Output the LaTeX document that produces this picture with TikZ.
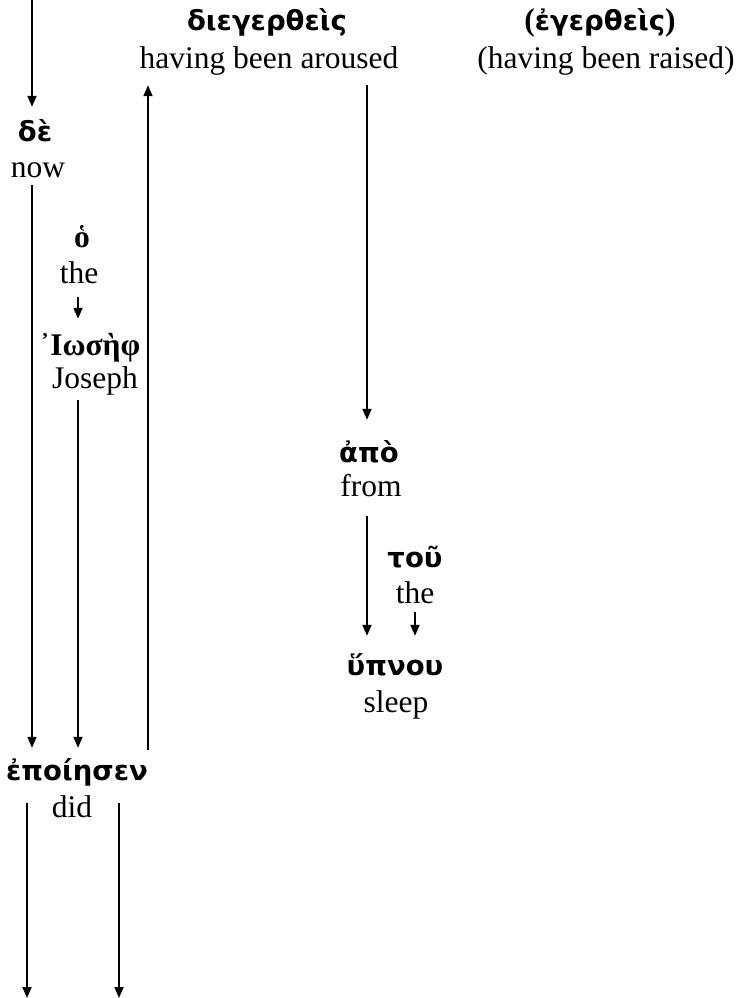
\documentclass[tikz,border=0pt]{standalone}
\usepackage{fontspec}
\setmainfont{Liberation Serif}
\newfontfamily\grk{DejaVu Sans}
\newfontfamily\grkserif{Liberation Serif}
\usetikzlibrary{arrows.meta}
\tikzset{
  eng/.style={anchor=base, inner sep=0pt, text height=22pt, text depth=7pt, font=\fontsize{31.5}{36}\selectfont},
  gk/.style={anchor=base, inner sep=0pt, text height=22pt, text depth=7pt, font=\fontsize{27.5}{32}\selectfont\grk\bfseries},
  gks/.style={anchor=base, inner sep=0pt, text height=22pt, text depth=7pt, font=\fontsize{31.5}{36}\selectfont\grkserif\bfseries},
  arr/.style={line width=1.8pt, -{Triangle[length=11pt,width=9pt]}},
}
\begin{document}
\begin{tikzpicture}[x=1pt,y=-1pt]
\useasboundingbox (0,0) rectangle (739,998);
% nodes
\node[gk]  (g1) at (267,31) {διεγερθεὶς};
\node[eng] (e1) at (269,69) {having been aroused};
\node[gk]  (g2) at (600,31) {{\grkserif\fontsize{31.5}{36}\selectfont(}ἐγερθεὶς{\grkserif\fontsize{31.5}{36}\selectfont)}};
\node[eng] (e2) at (606,69) {(having been raised)};
\node[gk]  (de) at (35,141) {δὲ};
\node[eng] (now) at (38,177) {now};
\node[gks] (o) at (82,247) {ὁ};
\node[eng] (the1) at (79,283) {the};
\node[gks] (ios) at (90,355) {᾿Ιωσὴφ};
\node[eng] (joseph) at (95,388) {Joseph};
\node[gk]  (apo) at (369,462) {ἀπὸ};
\node[eng] (from) at (371,496) {from};
\node[gk]  (tou) at (415,567) {τοῦ};
\node[eng] (the2) at (415,603) {the};
\node[gk]  (hyp) at (395,675) {ὕπνου};
\node[eng] (sleep) at (396,712) {sleep};
\node[gk]  (epo) at (77,780) {ἐποίησεν};
\node[eng] (did) at (72,817) {did};
% free ends
\coordinate (in0) at (32,0);
\coordinate (out1) at (27,998);
\coordinate (out2) at (119,998);
% connectors
\draw[arr] (in0) -- ([yshift=12pt]de.north -| in0);
\draw[arr] ([yshift=-1pt]now.south -| 32,0) -- ([yshift=10pt]epo.north -| 32,0);
\draw[arr] ([yshift=-7pt]the1.south -| 78,0) -- ([yshift=14pt]ios.north -| 78,0);
\draw[arr] ([yshift=-5pt]joseph.south -| 78,0) -- ([yshift=10pt]epo.north -| 78,0);
\draw[arr] ([yshift=8pt]epo.north -| 148,0) -- ([yshift=-9pt]e1.south -| 148,0);
\draw[arr] ([yshift=-9pt]e1.south -| 367,0) -- ([yshift=20pt]apo.north -| 367,0);
\draw[arr] ([yshift=-13pt]from.south -| 367,0) -- ([yshift=17pt]hyp.north -| 367,0);
\draw[arr] ([yshift=-2pt]the2.south -| 415,0) -- ([yshift=17pt]hyp.north -| 415,0);
\draw[arr] ([yshift=-16pt]epo.south -| out1) -- (out1);
\draw[arr] ([yshift=-16pt]epo.south -| out2) -- (out2);
\end{tikzpicture}
\end{document}
